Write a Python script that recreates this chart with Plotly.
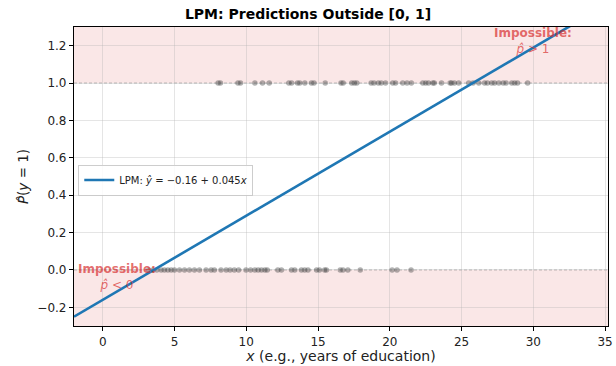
import plotly.graph_objects as go

# Data
x_y1 = [8.04, 8.2, 9.42, 9.6, 10.6, 11.13, 11.6, 12.97, 13.16, 13.57, 13.73, 14.08, 14.54, 14.72,
        15.5, 16.6, 16.75, 17.35, 17.53, 17.7, 18.7, 18.9, 19.2, 19.4, 19.7, 20.2, 20.4, 20.9, 21.2,
        21.5, 22.3, 22.5, 22.7, 23.0, 23.1, 23.6, 24.2, 24.3, 24.5, 24.8, 25.5, 25.8, 26.2, 26.6,
        26.8, 27.1, 27.3, 27.6, 27.9, 28.1, 28.5, 28.7, 28.9, 29.6]
x_y0 = [3.2, 3.5, 3.77, 4.07, 4.3, 4.54, 4.77, 5.0, 5.35, 5.7, 6.04, 6.39, 6.74, 7.2, 7.55, 7.78,
        8.24, 8.6, 8.87, 9.17, 9.47, 9.98, 10.3, 10.6, 10.83, 11.06, 11.3, 11.46, 12.2, 12.45,
        13.15, 13.38, 13.84, 14.07, 14.3, 14.9, 15.1, 15.46, 15.58, 16.55, 16.74, 17.08, 17.94,
        20.16, 20.5, 21.48]
intercept = -0.16
slope = 0.045
x_range = [-2, 35.2]
y_range = [-0.3, 1.3]
x_ticks = [0, 5, 10, 15, 20, 25, 30, 35]
y_ticks = [-0.2, 0.0, 0.2, 0.4, 0.6, 0.8, 1.0, 1.2]

shade = "rgba(214,39,40,0.11)"
red_txt = "rgba(214,39,40,0.68)"
font = "DejaVu Sans"

fig = go.Figure()

# shaded impossible regions
fig.add_shape(type="rect", xref="x", yref="y", x0=x_range[0], x1=x_range[1], y0=1, y1=y_range[1],
              fillcolor=shade, line_width=0, layer="below")
fig.add_shape(type="rect", xref="x", yref="y", x0=x_range[0], x1=x_range[1], y0=y_range[0], y1=0,
              fillcolor=shade, line_width=0, layer="below")
# dashed reference lines
for yv in [0, 1]:
    fig.add_shape(type="line", xref="x", yref="y", x0=x_range[0], x1=x_range[1], y0=yv, y1=yv,
                  line=dict(color="rgba(128,128,128,0.55)", width=1, dash="3px,2px"), layer="below")

fig.add_trace(go.Scatter(x=x_y1, y=[1] * len(x_y1), mode="markers",
                         marker=dict(color="rgba(70,70,70,0.42)", size=5.5, line_width=0),
                         showlegend=False, hoverinfo="skip"))
fig.add_trace(go.Scatter(x=x_y0, y=[0] * len(x_y0), mode="markers",
                         marker=dict(color="rgba(70,70,70,0.42)", size=5.5, line_width=0),
                         showlegend=False, hoverinfo="skip"))

lx = [x_range[0], x_range[1]]
ly = [intercept + slope * v for v in lx]
fig.add_trace(go.Scatter(x=lx, y=ly, mode="lines", line=dict(color="#1f77b4", width=2.6),
                         name="LPM: <i>ŷ</i> = −0.16 + 0.045<i>x</i>"))

fig.add_annotation(x=30, y=1.226, xref="x", yref="y",
                   text="<b>Impossible:</b><br><i>p̂</i> > 1", showarrow=False,
                   font=dict(color=red_txt, size=12, family=font), align="center")
fig.add_annotation(x=1.0, y=-0.04, xref="x", yref="y",
                   text="<b>Impossible:</b><br><i>p̂</i> < 0", showarrow=False,
                   font=dict(color=red_txt, size=12, family=font), align="center")

axis_common = dict(showline=True, linecolor="black", linewidth=1.2, mirror=True,
                   ticks="outside", ticklen=4, tickcolor="black",
                   showgrid=True, gridcolor="rgba(180,180,180,0.35)", gridwidth=1,
                   zeroline=False, tickfont=dict(size=12, color="#222", family=font),
                   ticklabeloverflow="allow")

fig.update_xaxes(range=x_range, tickvals=x_ticks, ticktext=[str(t) for t in x_ticks],
                 title=dict(text="<i>x</i> (e.g., years of education)", font=dict(size=14, family=font, color="#222"), standoff=3),
                 **axis_common)
fig.update_yaxes(range=y_range, tickvals=y_ticks, ticktext=[("−" if t < 0 else "") + f"{abs(t):.1f}" for t in y_ticks],
                 title=dict(text="<i>P̂</i>(<i>y</i> = 1)", font=dict(size=13.5, family=font, color="#222"), standoff=5),
                 **axis_common)

fig.update_layout(
    width=616, height=366,
    margin=dict(l=74, r=3, t=27, b=40),
    plot_bgcolor="white", paper_bgcolor="white",
    title=dict(text="<b>LPM: Predictions Outside [0, 1]</b>", x=0.5, xref="container", xanchor="center",
               y=0.975, yref="container", font=dict(size=14, family=font, color="black")),
    legend=dict(x=0.008, y=0.54, xanchor="left", yanchor="top", bgcolor="rgba(255,255,255,0.85)",
                bordercolor="rgba(200,200,200,0.9)", borderwidth=1, itemwidth=30,
                font=dict(size=10, family=font, color="#222")),
    font=dict(family=font),
)

fig.write_html("out.html")
